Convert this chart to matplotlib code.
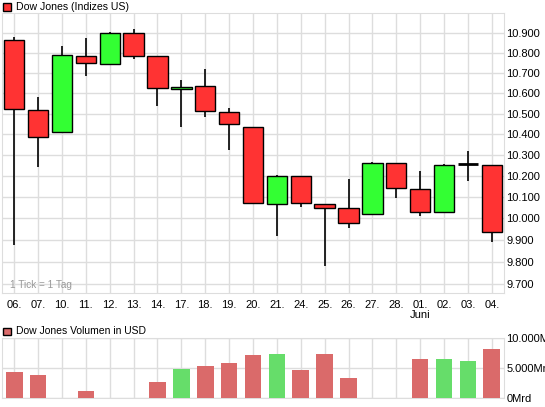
import numpy as np
import matplotlib
matplotlib.use("Agg")
import matplotlib.pyplot as plt
from matplotlib.patches import Rectangle
from matplotlib.ticker import FixedLocator, FuncFormatter, NullLocator

plt.rcParams['font.family'] = ['Liberation Sans', 'DejaVu Sans']

days = ["06.", "07.", "10.", "11.", "12.", "13.", "14.", "17.", "18.", "19.", "20.",
        "21.", "24.", "25.", "26.", "27.", "28.", "01.", "02.", "03.", "04."]
opens = [10864, 10517, 10410, 10784, 10744, 10900, 10784, 10620, 10635, 10507, 10434,
         10067, 10198, 10067, 10048, 10020, 10260, 10137, 10029, 10256, 10251]
highs = [10880, 10582, 10836, 10876, 10909, 10922, 10784, 10666, 10720, 10526, 10434,
         10205, 10198, 10067, 10186, 10265, 10260, 10224, 10256, 10321, 10251]
lows = [9875, 10244, 10410, 10686, 10744, 10770, 10539, 10437, 10485, 10326, 10071,
        9919, 10055, 9779, 9958, 10020, 10098, 10013, 10029, 10178, 9893]
closes = [10522, 10385, 10789, 10749, 10900, 10784, 10625, 10630, 10512, 10448, 10071,
          10200, 10071, 10048, 9978, 10260, 10142, 10029, 10251, 10256, 9938]
# Volumen in Mio USD
volumes = [4430, 3880, 0, 1270, 0, 0, 2770, 4880, 5380, 5930, 7220,
           7430, 4720, 7380, 3380, 0, 0, 6550, 6550, 6220, 8220]
vol_up = [False, False, False, False, False, False, False, True, False, False, False,
          True, False, False, False, False, False, False, True, True, False]
price_ticks = [9700, 9800, 9900, 10000, 10100, 10200, 10300, 10400, 10500,
               10600, 10700, 10800, 10900]
vol_ticks = [0, 5000, 10000]
vol_labels = ["0Mrd", "5.000Mrd", "10.000Mrd"]

W, H = 545, 407
fig = plt.figure(figsize=(W / 100, H / 100), dpi=100)


def fbox(x0, y0, x1, y1):
    return [x0 / W, 1 - y1 / H, (x1 - x0) / W, (y1 - y0) / H]


grid_c = "#dddddd"
x = np.arange(len(days))

ax = fig.add_axes(fbox(2.3, 13.3, 503.7, 293))
ax.set_yscale("log")
ax.set_xlim(-0.5, len(days) - 0.5)
ax.set_ylim(9659, 11002)
ax.yaxis.set_major_locator(FixedLocator(price_ticks))
ax.yaxis.set_minor_locator(NullLocator())
ax.yaxis.set_major_formatter(FuncFormatter(lambda v, p: f"{v:,.0f}".replace(",", ".")))
ax.yaxis.tick_right()
ax.set_xticks(x)
ax.set_xticklabels(days)
ax.tick_params(length=0, labelsize=8, pad=2)
ax.tick_params(axis="x", pad=5)
ax.grid(True, color=grid_c, lw=1)
ax.set_axisbelow(True)
for s in ax.spines.values():
    s.set_color(grid_c)

for i in range(len(days)):
    o, h, l, c = opens[i], highs[i], lows[i], closes[i]
    ax.vlines(i, l, h, color="black", lw=1.2, zorder=2)
    if o == c:
        ax.hlines(o, i - 0.43, i + 0.43, color="black", lw=2, zorder=3)
        continue
    col = "#33ff33" if c > o else "#ff3333"
    ax.bar(i, abs(c - o), bottom=min(o, c), width=0.85, color=col,
           edgecolor="black", lw=1, zorder=3)

ax.text(8 / 503, 0.027, "1 Tick = 1 Tag", transform=ax.transAxes,
        fontsize=7.2, color="#999999", va="center")
fig.text(x[17] * 23.87 / W + 14.3 / W, 1 - 315 / H, "Juni", fontsize=8,
         ha="center", va="center")

fig.patches.append(Rectangle((3 / W, 1 - 11 / H), 8 / W, 8 / H, transform=fig.transFigure,
                             facecolor="#ff3333", edgecolor="black", lw=1))
fig.text(16 / W, 1 - 7 / H, "Dow Jones (Indizes US)", fontsize=7.6, va="center")

vax = fig.add_axes(fbox(2.3, 338.3, 503.7, 398.3))
vax.set_xlim(-0.5, len(days) - 0.5)
vax.set_ylim(0, 10000)
vcols = ["#66dd6a" if u else "#da6a6a" for u in vol_up]
vax.bar(x, volumes, width=0.7, color=vcols, zorder=3)
vax.set_xticks(x)
vax.set_xticklabels([])
vax.yaxis.tick_right()
vax.set_yticks(vol_ticks)
vax.set_yticklabels(vol_labels)
vax.tick_params(length=0, labelsize=8, pad=2)
vax.grid(True, color=grid_c, lw=1)
vax.set_axisbelow(True)
for s in vax.spines.values():
    s.set_color(grid_c)

fig.patches.append(Rectangle((3 / W, 1 - 335 / H), 8 / W, 7 / H, transform=fig.transFigure,
                             facecolor="#da6a6a", edgecolor="black", lw=1))
fig.text(16 / W, 1 - 331.5 / H, "Dow Jones Volumen in USD", fontsize=7.5, va="center")

fig.savefig("out.png", dpi=100)
